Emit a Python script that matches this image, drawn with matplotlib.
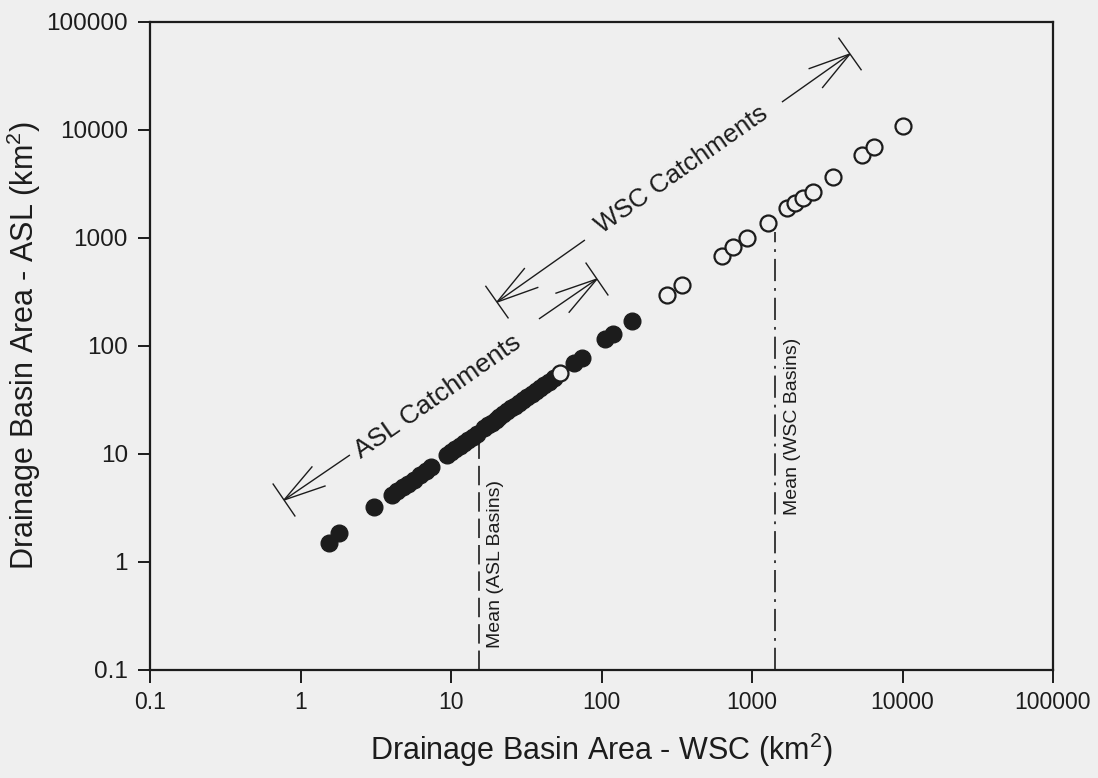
import numpy as np
import matplotlib
matplotlib.use("Agg")
import matplotlib.pyplot as plt

plt.rcParams['font.family'] = ['Liberation Sans', 'DejaVu Sans']
plt.rcParams['mathtext.fontset'] = 'custom'
plt.rcParams['mathtext.rm'] = 'Liberation Sans'
plt.rcParams['mathtext.it'] = 'Liberation Sans'
plt.rcParams['lines.scale_dashes'] = False

# ASL basins (filled)
asl_wsc = [1.55, 1.80, 3.1, 4.05, 4.4, 4.8, 5.2, 5.7, 6.2, 6.8, 7.4,
           9.4, 10.0, 10.7, 11.4, 12.2, 13.0, 13.9, 14.8,
           16.5, 17.5, 18.6, 19.8, 21.0, 22.3, 23.7, 25.2, 26.8, 28.5, 30.3,
           32.2, 34.3, 36.5, 39.0, 41.5, 44.5, 48.0, 66, 74, 105, 120, 160]
asl_asl = [1.5, 1.85, 3.2, 4.2, 4.5, 4.9, 5.3, 5.8, 6.4, 7.0, 7.6,
           9.8, 10.4, 11.1, 11.8, 12.6, 13.5, 14.4, 15.4,
           17.4, 18.4, 19.5, 20.8, 22.0, 23.4, 24.9, 26.4, 28.1, 29.9, 31.8,
           33.8, 36.0, 38.3, 40.9, 43.6, 46.7, 50.4, 70, 78, 115, 130, 170]

# WSC basins (open)
wsc_wsc = [53, 272, 343, 632, 748, 927, 1277, 1709, 1930, 2183, 2543, 3453, 5383, 6470, 10070]
wsc_asl = [56, 297, 367, 681, 826, 1000, 1377, 1896, 2110, 2347, 2666, 3670, 5870, 6960, 10890]

mean_asl = 15.3
mean_wsc = 1420

ticks = [0.1, 1, 10, 100, 1000, 10000, 100000]
tick_labels = ['0.1', '1', '10', '100', '1000', '10000', '100000']

bg = '#efefef'
ink = '#1c1c1c'

fig = plt.figure(figsize=(10.98, 7.78), dpi=100, facecolor=bg)
ax = fig.add_axes([150/1098, 108/778, 903/1098, 648/778], facecolor=bg)
ax.set_xscale('log')
ax.set_yscale('log')
ax.set_xlim(0.1, 100000)
ax.set_ylim(0.1, 100000)
ax.set_autoscale_on(False)

ax.plot(asl_wsc, asl_asl, 'o', ms=12, color=ink, mec=ink, zorder=3)
ax.plot(wsc_wsc, wsc_asl, 'o', ms=11.5, mfc=bg, mec=ink, mew=1.6, zorder=4)

ax.plot([mean_asl, mean_asl], [0.1, 15], color=ink, lw=1.2, dashes=(14, 5), zorder=2)
ax.plot([mean_wsc, mean_wsc], [0.1, 1140], color=ink, lw=1.2, dashes=(16, 5, 2, 5), zorder=2)
ax.text(19.8, 0.16, 'Mean (ASL Basins)', rotation=90, ha='center', va='bottom', fontsize=14, color=ink)
ax.text(1860, 2.72, 'Mean (WSC Basins)', rotation=90, ha='center', va='bottom', fontsize=14, color=ink)


def arrow(tail, tip, bar=20, head=44, ang=15.5):
    T = ax.transData
    p0 = T.transform(tail)
    p1 = T.transform(tip)
    d = (p1 - p0) / np.hypot(*(p1 - p0))
    perp = np.array([-d[1], d[0]])
    segs = [(p0, p1), (p1 + bar * perp, p1 - bar * perp)]
    for s in (1, -1):
        a = np.radians(ang * s)
        r = np.array([d[0] * np.cos(a) - d[1] * np.sin(a), d[0] * np.sin(a) + d[1] * np.cos(a)])
        segs.append((p1, p1 - head * r))
    inv = T.inverted()
    for a, b in segs:
        q = inv.transform([a, b])
        ax.plot(q[:, 0], q[:, 1], color=ink, lw=1.0, solid_capstyle='butt', zorder=2)


arrow((2.13, 9.79), (0.777, 3.75))
arrow((38.4, 178), (93.3, 417))
arrow((77.6, 958), (20.2, 255))
arrow((1581, 18150), (4478, 50600))

ax.text(8.2, 33.7, 'ASL Catchments', rotation=35, ha='center', va='center',
        fontsize=19, color=ink, rotation_mode='anchor')
ax.text(343, 4266, 'WSC Catchments', rotation=35, ha='center', va='center',
        fontsize=18.5, color=ink, rotation_mode='anchor')

ax.set_xticks(ticks)
ax.set_xticklabels(tick_labels)
ax.set_yticks(ticks)
ax.set_yticklabels(tick_labels)
ax.minorticks_off()
ax.tick_params(direction='out', length=9, width=1.4, labelsize=16.5, colors=ink, pad=6)
ax.tick_params(axis='y', labelsize=17.5, pad=7)
for sp in ax.spines.values():
    sp.set_linewidth(1.6)
    sp.set_color(ink)

ax.set_xlabel('Drainage Basin Area - WSC (km$^2$)', fontsize=22, color=ink, labelpad=12)
ax.set_ylabel('Drainage Basin Area - ASL (km$^2$)', fontsize=22, color=ink)
ax.yaxis.set_label_coords(-0.118, 0.5)

fig.savefig('out.png', dpi=100, facecolor=bg)
